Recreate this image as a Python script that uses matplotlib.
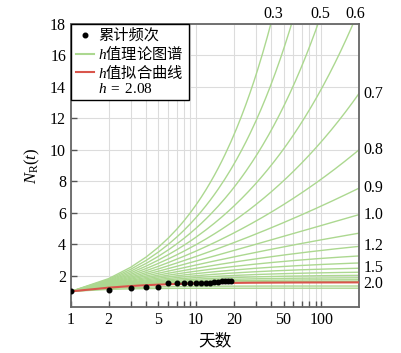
import matplotlib
matplotlib.use("Agg")
import matplotlib.pyplot as plt
import matplotlib.transforms as mtransforms
from matplotlib.lines import Line2D
import numpy as np

# fonts: serif for numbers, CJK fallback for chinese
plt.rcParams['font.family'] = ['Liberation Serif', 'Noto Sans CJK SC']
plt.rcParams['mathtext.fontset'] = 'custom'
plt.rcParams['mathtext.rm'] = 'Liberation Serif'
plt.rcParams['mathtext.it'] = 'Liberation Serif:italic'
plt.rcParams['mathtext.sf'] = 'Noto Sans CJK SC'

# observed cumulative frequency (relative to day 1)
days = [1, 2, 3, 4, 5, 6, 7, 8, 9, 10, 11, 12, 13, 14, 15, 16, 17, 18, 19]
n_rel = [1.0, 1.1, 1.22, 1.25, 1.3, 1.53, 1.54, 1.54, 1.55, 1.55, 1.55, 1.56,
         1.56, 1.57, 1.58, 1.63, 1.65, 1.66, 1.66]

# h values of the theoretical curves
h_values = [0.3, 0.4, 0.5, 0.6, 0.7, 0.8, 0.9, 1.0, 1.1, 1.2, 1.3, 1.4, 1.5,
            1.6, 1.7, 1.8, 1.9, 2.0, 2.5, 3.0]
h_fit = 2.08
top_labels = [0.3, 0.5, 0.6]
right_labels = [0.7, 0.8, 0.9, 1.0, 1.2, 1.5, 2.0]
t_max = 200

green = '#acd890'
red = '#d9554c'


def curve(h, t):
    # N_R(t) = sum k^-h, k = 1..t
    return np.cumsum(t ** (-h))


fig = plt.figure(figsize=(4.01, 3.53), dpi=100)
ax = fig.add_axes([0.177, 0.130, 0.718, 0.802])

t = np.arange(1, t_max + 1, dtype=float)
for h in h_values:
    ax.plot(t, curve(h, t), color=green, lw=1.0, zorder=2)
ax.plot(t, curve(h_fit, t), color=red, lw=1.5, zorder=3)
ax.plot(days, n_rel, 'o', color='black', ms=3.3, zorder=4)

ax.set_xscale('log')
ax.set_xlim(1, t_max)
ax.set_ylim(0, 18)
ax.set_xticks([1, 2, 5, 10, 20, 50, 100])
ax.set_xticklabels(['1', '2', '5', '10', '20', '50', '100'])
ax.set_xticks([3, 4, 6, 7, 8, 9, 30, 40, 60, 70, 80, 90], minor=True)
ax.set_yticks([2, 4, 6, 8, 10, 12, 14, 16, 18])
ax.tick_params(which='both', direction='in', labelsize=11.5, colors='#555555',
               labelcolor='black', width=1, length=4)
ax.tick_params(which='minor', labelbottom=False)
ax.grid(True, which='both', color='#dcdcdc', lw=0.8, zorder=0)
for s in ax.spines.values():
    s.set_color('#666666')
    s.set_linewidth(1.3)

ax.set_xlabel('天数', fontsize=12, labelpad=4)
ax.set_ylabel(r'$N_{\mathrm{R}}(t)$', fontsize=12, labelpad=6)

# h labels on the right side and above the top
trans_r = mtransforms.blended_transform_factory(ax.transAxes, ax.transData)
offsets = {2.0: -0.15}
for h in right_labels:
    y_end = curve(h, t)[-1] + offsets.get(h, 0)
    ax.text(1.015, y_end, f'{h:.1f}', transform=trans_r, ha='left',
            va='center', fontsize=11.5)

trans_t = mtransforms.blended_transform_factory(ax.transData, ax.transAxes)
for h in top_labels:
    n = curve(h, t)
    x_top = np.exp(np.interp(18, n, np.log(t)))
    ax.text(x_top * 1.05, 1.008, f'{h:.1f}', transform=trans_t, ha='center',
            va='bottom', fontsize=11.5)

handles = [
    Line2D([], [], marker='o', color='black', ls='none', ms=3.3),
    Line2D([], [], color=green, lw=1.5),
    Line2D([], [], color=red, lw=1.5),
    Line2D([], [], color='none'),
]
labels = ['累计频次', r'$h\mathsf{值理论图谱}$', r'$h\mathsf{值拟合曲线}$',
          r'$h\;=\;2.08$']
leg = ax.legend(handles, labels, loc='upper left', borderaxespad=0,
                fontsize=11, fancybox=False, framealpha=1, edgecolor='black',
                handlelength=1.2, handletextpad=0.3, labelspacing=0.05,
                borderpad=0.3)
leg.get_frame().set_linewidth(1.0)

fig.savefig('out.png', dpi=100)
